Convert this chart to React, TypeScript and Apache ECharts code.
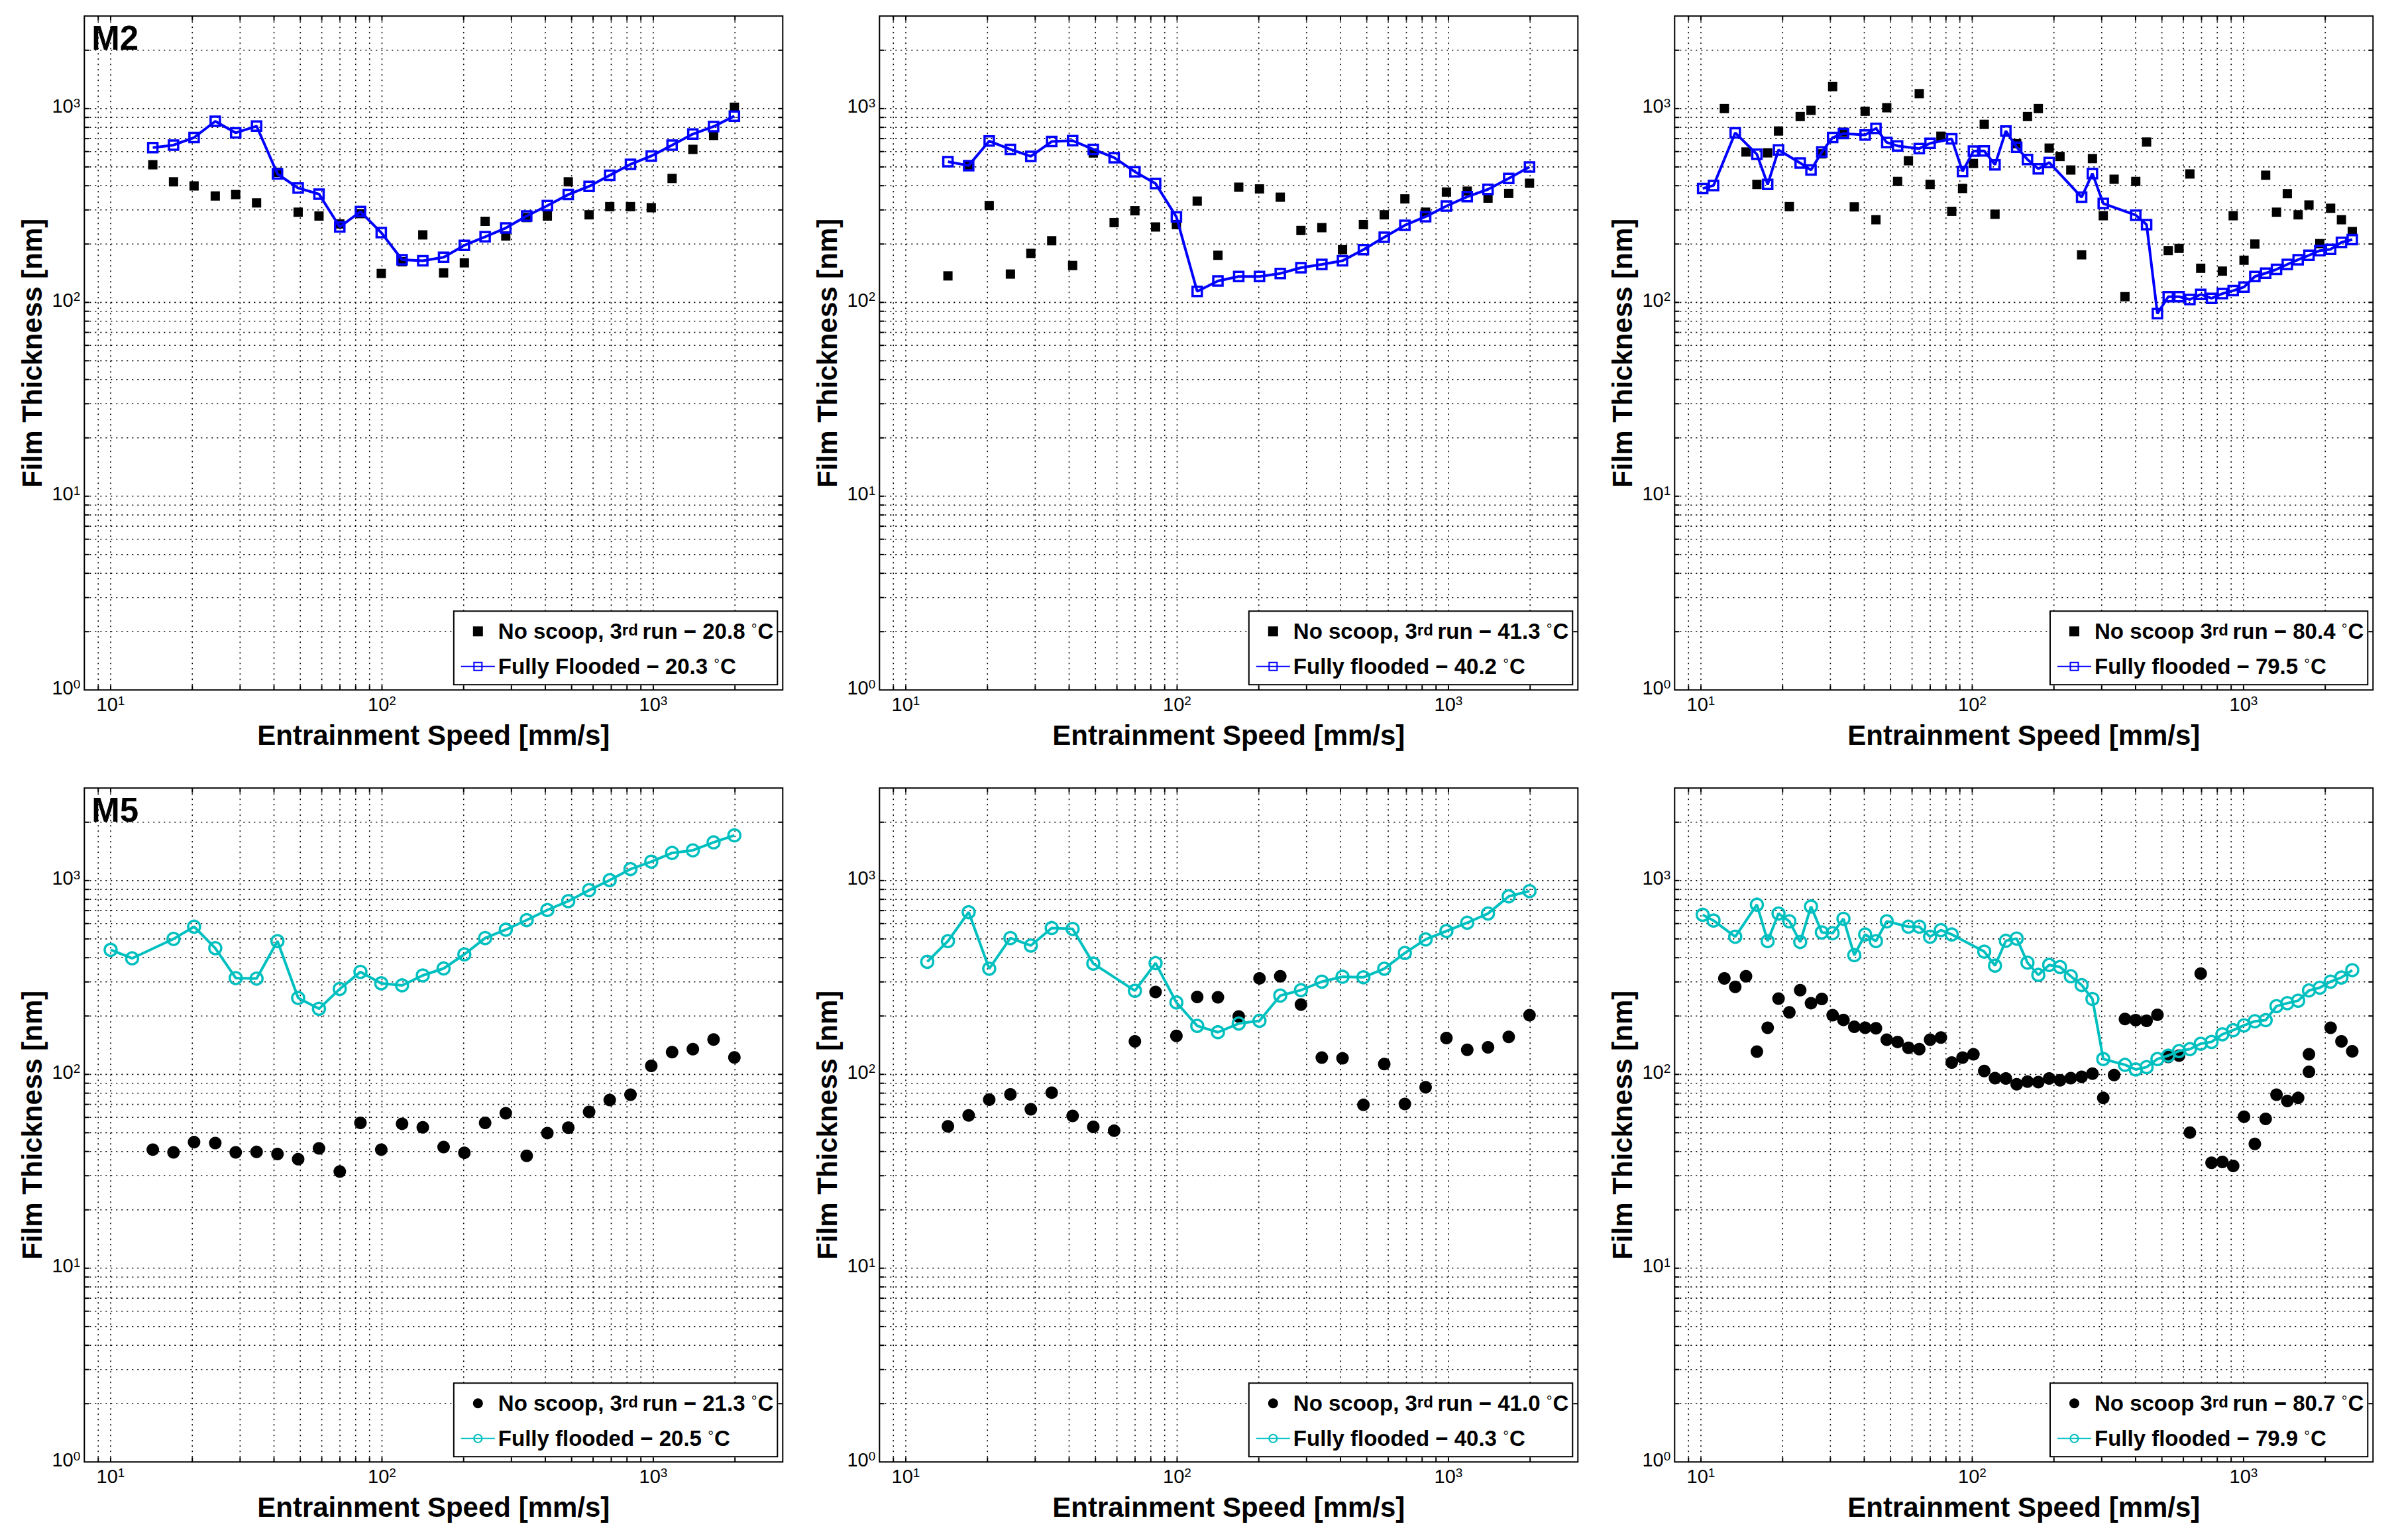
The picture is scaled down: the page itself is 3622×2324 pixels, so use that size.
import React, { useEffect, useRef } from 'react';
import * as echarts from 'echarts';

const W = 3622;
const H = 2324;
const FONT = '"Liberation Sans", Arial, Helvetica, sans-serif';
const BLUE = '#0000FF';
const CYAN = '#00BFBF';

// ---------- data ----------
// entrainment speeds [mm/s] used at 20 °C / 40 °C
const SPEED_A = [10.0, 12.0, 14.3, 17.05, 20.3, 24.3, 28.9, 34.5, 41.2, 49.1, 58.6, 69.9, 83.3, 99.4, 118.6, 141.4, 168.7, 201.2, 240, 286, 341.5, 407, 486, 580, 691, 824, 983, 1173, 1399, 1668, 1990];
// entrainment speeds [mm/s] used at 80 °C
const SPEED_B = [10.15, 11.13, 12.2, 13.38, 14.66, 16.08, 17.62, 19.32, 21.18, 23.22, 25.45, 27.9, 30.58, 33.52, 36.75, 40.29, 44.16, 48.41, 53.07, 58.18, 63.78, 69.92, 76.64, 84.02, 92.1, 101, 110.7, 121.3, 133, 145.8, 159.8, 175.2, 192.1, 210.6, 230.8, 253, 277.3, 304, 333.3, 365.4, 400.5, 439.1, 481.3, 527.6, 578.4, 634.1, 695, 761.9, 835.2, 915.6, 1003.7, 1100.3, 1206.2, 1322.3, 1449.5, 1589, 1741.8, 1909.4, 2093.2, 2294.6, 2515.4];

const IDX_A_STD = [2, 3, 4, 5, 6, 7, 8, 9, 10, 11, 12, 13, 14, 15, 16, 17, 18, 19, 20, 21, 22, 23, 24, 25, 26, 27, 28, 29, 30];

// M2, 20 °C
const P1_NOSCOOP = [513, 419, 399, 354, 360, 326, 469, 292, 279, 254, 287, 141, 162, 223, 142, 160, 262, 220, 274, 279, 419, 283, 312, 312, 308, 436, 616, 727, 1016];
const P1_FLOOD = [629, 648, 709, 860, 750, 812, 460, 389, 362, 245, 294, 229, 166, 164, 171, 197, 218, 242, 279, 316, 360, 397, 453, 516, 569, 648, 739, 808, 915];
// M2, 40 °C
const P2_NOSCOOP = [137, 505, 316, 140, 179, 208, 155, 590, 258, 297, 245, 252, 333, 175, 393, 385, 349, 235, 243, 187, 252, 283, 342, 292, 371, 375, 345, 365, 412];
const P2_FLOOD = [532, 508, 680, 616, 567, 676, 683, 616, 558, 472, 410, 276, 114, 129, 136, 136, 141, 151, 157, 164, 187, 217, 250, 277, 314, 351, 383, 436, 500];
// M2, 80 °C
const P3_NOSCOOP_K = [2, 4, 5, 6, 7, 8, 9, 10, 11, 12, 13, 14, 15, 16, 17, 18, 19, 20, 21, 22, 23, 24, 25, 26, 27, 29, 30, 31, 32, 33, 34, 35, 36, 37, 38, 39, 40, 41, 43, 44, 45, 46, 48, 49, 50, 51, 52, 53, 54, 55, 56, 57, 58, 59, 60];
const P3_NOSCOOP = [1000, 597, 406, 591, 766, 312, 910, 979, 584, 1298, 755, 311, 969, 267, 1010, 421, 538, 1194, 406, 720, 295, 387, 521, 829, 285, 659, 910, 1000, 625, 566, 482, 176, 552, 280, 432, 107, 421, 672, 185, 190, 460, 150, 145, 280, 165, 200, 453, 292, 364, 283, 318, 201, 306, 267, 232];
const P3_FLOOD_K = [0, 1, 3, 5, 6, 7, 9, 10, 11, 12, 13, 15, 16, 17, 18, 20, 21, 23, 24, 25, 26, 27, 28, 29, 30, 31, 32, 35, 36, 37, 40, 41, 42, 43, 44, 45, 46, 47, 48, 49, 50, 51, 52, 53, 54, 55, 56, 57, 58, 59, 60];
const P3_FLOOD = [387, 401, 750, 581, 406, 612, 524, 482, 597, 709, 743, 731, 791, 669, 642, 622, 662, 698, 474, 603, 605, 513, 766, 632, 546, 489, 527, 349, 462, 324, 282, 252, 87.5, 107, 107, 103.5, 110, 105, 111, 115, 120, 136, 141.5, 148, 157, 166, 175, 185, 188, 204, 211];
// M5, 20 °C
const P4_NOSCOOP = [40.9, 39.6, 44.7, 44.2, 39.6, 39.8, 38.8, 36.5, 41.5, 31.5, 56.2, 40.9, 55.6, 53.3, 42.2, 39.4, 56.2, 63.0, 38.0, 49.8, 53.1, 64.0, 73.7, 78.5, 110.7, 130.2, 135, 151.4, 122.3];
const P4_FLOOD_K = [0, 1, 3, 4, 5, 6, 7, 8, 9, 10, 11, 12, 13, 14, 15, 16, 17, 18, 19, 20, 21, 22, 23, 24, 25, 26, 27, 28, 29, 30];
const P4_FLOOD = [439, 397, 500, 578, 448, 314, 312, 487, 248, 218, 276, 338, 295, 288, 324, 352, 416, 505, 558, 625, 705, 783, 892, 1005, 1146, 1252, 1389, 1432, 1574, 1711];
// M5, 40 °C
const P5_NOSCOOP = [53.9, 61.4, 74.1, 78.9, 66.1, 80.5, 61.1, 53.6, 51.2, 148, 266, 158, 251, 250, 199, 313, 321, 229, 122, 121, 69.6, 113, 70.3, 85.8, 154, 134, 138, 156, 202];
const P5_FLOOD_K = [1, 2, 3, 4, 5, 6, 7, 8, 9, 11, 12, 13, 14, 15, 16, 17, 18, 19, 20, 21, 22, 23, 24, 25, 26, 27, 28, 29, 30];
const P5_FLOOD = [381, 487, 687, 351, 505, 462, 569, 563, 373, 270, 375, 235, 178, 165, 183, 189, 255, 272, 301, 319, 317, 351, 423, 497, 549, 606, 676, 829, 882];
// M5, 80 °C
const P6_NOSCOOP_K = [2, 3, 4, 5, 6, 7, 8, 9, 10, 11, 12, 13, 14, 15, 16, 17, 18, 19, 20, 21, 22, 23, 24, 25, 26, 27, 28, 29, 30, 31, 32, 33, 34, 35, 36, 37, 38, 39, 40, 41, 42, 43, 44, 45, 46, 47, 48, 49, 50, 51, 52, 53, 54, 55, 56, 56, 58, 59, 60];
const P6_NOSCOOP = [312.6, 283, 321, 131, 174, 246, 209, 272, 233, 245, 202, 191, 176, 174, 173, 151, 147, 137, 135, 151, 155, 115, 122, 127, 104, 95.7, 95.2, 88.9, 91.7, 91.2, 95.2, 93.2, 95.7, 97.2, 100.8, 75.6, 99.2, 193, 190.5, 189, 203, 123, 125, 50.1, 331, 35, 35.3, 33.7, 60.5, 43.8, 58.9, 78.5, 72.9, 75.6, 127, 103, 174, 148, 131.5];
const P6_FLOOD_K = [0, 1, 3, 5, 6, 7, 8, 9, 10, 11, 12, 13, 14, 15, 16, 17, 19, 20, 21, 22, 23, 26, 27, 28, 29, 30, 31, 32, 33, 34, 35, 36, 37, 39, 40, 41, 42, 43, 44, 45, 46, 47, 48, 49, 50, 51, 52, 53, 54, 55, 56, 57, 58, 59, 60];
const P6_FLOOD = [666, 622, 513, 751, 487, 676, 616, 482, 735, 540, 535, 635, 412, 527, 487, 616, 578, 578, 513, 555, 527, 430, 364, 489, 502, 377, 326, 367, 358, 321, 289, 245, 120, 112, 106, 109, 120, 125, 132, 135, 144, 147, 161, 169, 179, 188, 190.5, 225, 233, 240, 271, 280, 301, 316, 345];

// axis ranges and grid lines
const X_MIN = 8;
const X_MAX = 3000;
const Y_MIN = 1;
const Y_MAX = 3000;
const DECADES = [1, 10, 100, 1000];
const MULTS = [1, 2, 3, 4, 5, 6, 7, 8, 9];

// ---------- layout ----------
const COL_LEFT = [127.3, 1327.3, 2527.3];
const ROW_TOP = [24.3, 1189.3];
const GRID_W = 1054;
const GRID_H = 1017;
const TICK = 7;
const SQUARE_ICON = 'path://M0,0L10,0L10,10L0,10Z';

function pairs(speeds: number[], idx: number[], ys: number[]) {
  return ys.map((y, j) => [speeds[idx[j]], y]);
}

const PANELS = [
  { col: 0, row: 0, tag: 'M2', dot: 'rect', color: BLUE,
    nsName: 'No scoop, 3rd run − 20.8 °C', ffName: 'Fully Flooded − 20.3 °C',
    ns: pairs(SPEED_A, IDX_A_STD, P1_NOSCOOP), ff: pairs(SPEED_A, IDX_A_STD, P1_FLOOD) },
  { col: 1, row: 0, tag: '', dot: 'rect', color: BLUE,
    nsName: 'No scoop, 3rd run − 41.3 °C', ffName: 'Fully flooded − 40.2 °C',
    ns: pairs(SPEED_A, IDX_A_STD, P2_NOSCOOP), ff: pairs(SPEED_A, IDX_A_STD, P2_FLOOD) },
  { col: 2, row: 0, tag: '', dot: 'rect', color: BLUE,
    nsName: 'No scoop 3rd run − 80.4 °C', ffName: 'Fully flooded − 79.5 °C',
    ns: pairs(SPEED_B, P3_NOSCOOP_K, P3_NOSCOOP), ff: pairs(SPEED_B, P3_FLOOD_K, P3_FLOOD) },
  { col: 0, row: 1, tag: 'M5', dot: 'circle', color: CYAN,
    nsName: 'No scoop, 3rd run − 21.3 °C', ffName: 'Fully flooded − 20.5 °C',
    ns: pairs(SPEED_A, IDX_A_STD, P4_NOSCOOP), ff: pairs(SPEED_A, P4_FLOOD_K, P4_FLOOD) },
  { col: 1, row: 1, tag: '', dot: 'circle', color: CYAN,
    nsName: 'No scoop, 3rd run − 41.0 °C', ffName: 'Fully flooded − 40.3 °C',
    ns: pairs(SPEED_A, IDX_A_STD, P5_NOSCOOP), ff: pairs(SPEED_A, P5_FLOOD_K, P5_FLOOD) },
  { col: 2, row: 1, tag: '', dot: 'circle', color: CYAN,
    nsName: 'No scoop 3rd run − 80.7 °C', ffName: 'Fully flooded − 79.9 °C',
    ns: pairs(SPEED_B, P6_NOSCOOP_K, P6_NOSCOOP), ff: pairs(SPEED_B, P6_FLOOD_K, P6_FLOOD) },
];

function gridValues(lo: number, hi: number) {
  const out: number[] = [];
  DECADES.forEach((d) => MULTS.forEach((m) => {
    const v = m * d;
    if (v > lo && v < hi) out.push(v);
  }));
  return out;
}
const X_LINES = gridValues(X_MIN, X_MAX);
const Y_LINES = gridValues(Y_MIN, Y_MAX);

function legendFmt(name: string) {
  const parts = name.split('°');
  const head = parts[0];
  const tail = parts[1] || '';
  let out = '';
  const k = head.indexOf('3rd');
  if (k >= 0) {
    out += `{n|${head.slice(0, k + 1)}}{sup|rd }{n|${head.slice(k + 4)}}`;
  } else {
    out += `{n|${head}}`;
  }
  out += `{deg|°}{n|${tail}}`;
  return out;
}

function expLabel(v: number) {
  const e = Math.round(Math.log10(v));
  return `{b|10}{s|${e}}`;
}

const TICK_RICH = {
  b: { fontSize: 29, lineHeight: 29, verticalAlign: 'bottom', fontFamily: FONT, color: '#000' },
  s: { fontSize: 19, lineHeight: 19, verticalAlign: 'top', padding: [0, 0, 21, 0], fontFamily: FONT, color: '#000' },
};

function frameSeries(i: number) {
  return {
    type: 'custom',
    xAxisIndex: i,
    yAxisIndex: i,
    silent: true,
    z: 1,
    clip: false,
    data: [[100, 100]],
    renderItem: (_p: any, api: any) => {
      const lb = api.coord([X_MIN, Y_MIN]);
      const rt = api.coord([X_MAX, Y_MAX]);
      const gridStyle = { stroke: '#000', lineWidth: 1.6, lineDash: [2, 6], fill: null };
      const tickStyle = { stroke: '#000', lineWidth: 2, fill: null };
      const children: any[] = [];
      X_LINES.forEach((v) => {
        const x = api.coord([v, Y_MIN])[0];
        children.push({ type: 'line', shape: { x1: x, y1: rt[1], x2: x, y2: lb[1] }, style: gridStyle });
        children.push({ type: 'line', shape: { x1: x, y1: lb[1], x2: x, y2: lb[1] - TICK }, style: tickStyle });
        children.push({ type: 'line', shape: { x1: x, y1: rt[1], x2: x, y2: rt[1] + TICK }, style: tickStyle });
      });
      Y_LINES.forEach((v) => {
        const y = api.coord([X_MIN, v])[1];
        children.push({ type: 'line', shape: { x1: lb[0], y1: y, x2: rt[0], y2: y }, style: gridStyle });
        children.push({ type: 'line', shape: { x1: lb[0], y1: y, x2: lb[0] + TICK, y2: y }, style: tickStyle });
        children.push({ type: 'line', shape: { x1: rt[0], y1: y, x2: rt[0] - TICK, y2: y }, style: tickStyle });
      });
      return { type: 'group', children };
    },
  };
}

function buildOption() {
  const grid = PANELS.map((p) => ({
    left: COL_LEFT[p.col],
    top: ROW_TOP[p.row],
    width: GRID_W,
    height: GRID_H,
    show: true,
    backgroundColor: '#fff',
    borderColor: '#000',
    borderWidth: 2,
    containLabel: false,
    outerBoundsMode: 'none',
  }));

  const xAxis = PANELS.map((_p, i) => ({
    type: 'log',
    logBase: 10,
    gridIndex: i,
    min: X_MIN,
    max: X_MAX,
    name: 'Entrainment Speed [mm/s]',
    nameLocation: 'middle',
    nameGap: 47,
    nameMoveOverlap: false,
    nameTextStyle: { fontSize: 42, fontWeight: 'bold', fontFamily: FONT, color: '#000' },
    axisLine: { show: false },
    axisTick: { show: false },
    splitLine: { show: false },
    minorTick: { show: false },
    axisLabel: {
      show: true,
      margin: 7,
      showMinLabel: false,
      showMaxLabel: false,
      formatter: expLabel,
      rich: TICK_RICH,
    },
  }));

  const yAxis = PANELS.map((_p, i) => ({
    type: 'log',
    logBase: 10,
    gridIndex: i,
    min: Y_MIN,
    max: Y_MAX,
    name: 'Film Thickness [nm]',
    nameLocation: 'middle',
    nameGap: 58,
    nameMoveOverlap: false,
    nameTextStyle: { fontSize: 42, fontWeight: 'bold', fontFamily: FONT, color: '#000' },
    axisLine: { show: false },
    axisTick: { show: false },
    splitLine: { show: false },
    minorTick: { show: false },
    axisLabel: {
      show: true,
      margin: 6,
      showMinLabel: true,
      showMaxLabel: false,
      padding: [0, 0, 7, 0],
      formatter: expLabel,
      rich: TICK_RICH,
    },
  }));

  const series: any[] = [];
  PANELS.forEach((p, i) => {
    const isSq = p.dot === 'rect';
    series.push(frameSeries(i));
    series.push({
      type: 'scatter',
      name: p.nsName,
      xAxisIndex: i,
      yAxisIndex: i,
      symbol: p.dot,
      symbolSize: isSq ? 14 : 19,
      itemStyle: { color: '#000', opacity: 1 },
      z: 3,
      data: p.ns,
    });
    series.push({
      type: 'line',
      name: p.ffName,
      xAxisIndex: i,
      yAxisIndex: i,
      symbol: p.dot,
      symbolSize: isSq ? 14 : 18,
      showSymbol: true,
      showAllSymbol: true,
      lineStyle: { color: p.color, width: 4 },
      itemStyle: { color: 'rgba(0,0,0,0)', borderColor: p.color, borderWidth: 3.5, opacity: 1 },
      z: 4,
      data: p.ff,
    });
  });

  const legend = PANELS.map((p) => ({
    show: true,
    orient: 'vertical',
    align: 'left',
    right: W - (COL_LEFT[p.col] + GRID_W - 8),
    bottom: H - (ROW_TOP[p.row] + GRID_H - 8),
    data: [
      p.dot === 'rect' ? { name: p.nsName, icon: SQUARE_ICON } : { name: p.nsName },
      { name: p.ffName },
    ],
    selectedMode: false,
    symbolKeepAspect: true,
    itemWidth: 51,
    itemHeight: 15,
    itemGap: 9,
    padding: [14, 6, 0, 10],
    backgroundColor: '#fff',
    borderColor: '#000',
    borderWidth: 2,
    borderRadius: 0,
    formatter: legendFmt,
    textStyle: {
      color: '#000',
      fontFamily: FONT,
      fontSize: 33,
      fontWeight: 'bold',
      rich: {
        n: { fontSize: 33, lineHeight: 33, fontWeight: 'bold', fontFamily: FONT, color: '#000', verticalAlign: 'bottom' },
        sup: { fontSize: 24, lineHeight: 24, fontWeight: 'bold', fontFamily: FONT, color: '#000', verticalAlign: 'top', padding: [2, 0, 18, 0] },
        deg: { fontSize: 22, lineHeight: 22, fontWeight: 'normal', fontFamily: FONT, color: '#000', verticalAlign: 'top', padding: [2, 1, 20, 0] },
      },
    },
  }));

  const graphic = PANELS.filter((p) => p.tag).map((p) => ({
    type: 'text',
    left: COL_LEFT[p.col] + 11,
    top: ROW_TOP[p.row] + 8,
    z: 100,
    style: {
      text: p.tag,
      fontSize: 51,
      fontWeight: 'bold',
      fontFamily: FONT,
      fill: '#000',
    },
  }));

  return {
    animation: false,
    backgroundColor: '#fff',
    grid,
    xAxis,
    yAxis,
    series,
    legend,
    graphic,
  };
}

export default function App() {
  const ref = useRef<HTMLDivElement>(null);
  useEffect(() => {
    const el = ref.current;
    if (!el) return undefined;
    const chart = echarts.init(el, null, { renderer: 'svg', width: W, height: H });
    chart.setOption(buildOption() as any);
    return () => {
      chart.dispose();
    };
  }, []);
  return (
    <div
      ref={ref}
      style={{ position: 'absolute', left: 0, top: 0, width: W, height: H, background: '#fff' }}
    />
  );
}
